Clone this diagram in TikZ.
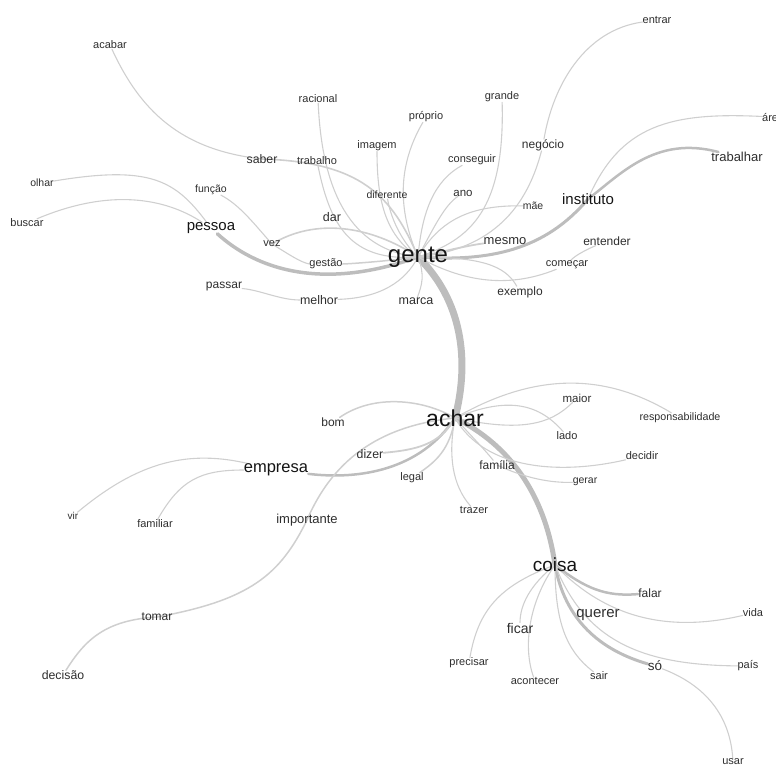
\documentclass[tikz,border=0pt]{standalone}
\usepackage{fontspec}
\setmainfont{Liberation Sans}
\usetikzlibrary{backgrounds}
\begin{document}
\begin{tikzpicture}[x=1pt,y=-1pt,
                    edge/.style={draw=black!19,line width=1.1pt,line cap=round},
                    trunk/.style={draw=black!26,line width=#1,line cap=round},
                    lbl/.style={inner sep=0pt,text=black!82,font=\fontsize{#1}{#1}\selectfont},
                    lbl/.default=11,
                    big/.style={text=black!92}]
 \useasboundingbox (0,0) rectangle (776,764);
 % hubs
 \node[lbl=24,big] (gente) at (418,257) {gente};
 \node[lbl=23,big] (achar) at (455,418) {achar};
 \node[lbl=19,big] (coisa) at (555,565) {coisa};
 \node[lbl=16.5,big] (empresa) at (276,470) {empresa};
 \node[lbl=15,big] (pessoa) at (211,228) {pessoa};
 \node[lbl=15,big] (instituto) at (588,199) {instituto};
 % around gente
 \node[lbl=13] (trabalhar) at (737,157) {trabalhar};
 \node[lbl, anchor=west] (area) at (762,117) {área};
 \node[lbl=13] (mesmo) at (505,241) {mesmo};
 \node[lbl=12] (negocio) at (543,145) {negócio};
 \node[lbl] (entrar) at (657,20) {entrar};
 \node[lbl] (grande) at (502,97) {grande};
 \node[lbl] (proprio) at (426,117) {próprio};
 \node[lbl] (racional) at (318,99) {racional};
 \node[lbl] (imagem) at (377,146) {imagem};
 \node[lbl] (conseguir) at (472,160) {conseguir};
 \node[lbl=10.5] (diferente) at (387,195) {diferente};
 \node[lbl=11.5] (ano) at (463,193) {ano};
 \node[lbl=10.5] (mae) at (533,206) {mãe};
 \node[lbl=12.3] (saber) at (262,159) {saber};
 \node[lbl] (trabalho) at (317,161) {trabalho};
 \node[lbl] (acabar) at (110,45) {acabar};
 \node[lbl=10.5] (funcao) at (211,190) {função};
 \node[lbl=12.5] (dar) at (332,217) {dar};
 \node[lbl] (vez) at (272,244) {vez};
 \node[lbl] (gestao) at (326,264) {gestão};
 \node[lbl=12] (passar) at (224,287) {passar};
 \node[lbl=12.4] (melhor) at (319,300) {melhor};
 \node[lbl=12.5] (marca) at (416,301) {marca};
 \node[lbl=12] (exemplo) at (520,292) {exemplo};
 \node[lbl] (comecar) at (567,265) {começar};
 \node[lbl=12] (entender) at (607,241) {entender};
 \node[lbl=10.5] (olhar) at (42,183) {olhar};
 \node[lbl] (buscar) at (27,223) {buscar};
 % around achar
 \node[lbl=12] (bom) at (333,422) {bom};
 \node[lbl=12.3] (dizer) at (370,454) {dizer};
 \node[lbl] (legal) at (412,478) {legal};
 \node[lbl=13] (importante) at (307,520) {importante};
 \node[lbl=12] (tomar) at (157,617) {tomar};
 \node[lbl=12.3] (decisao) at (63,675) {decisão};
 \node[lbl=10] (vir) at (73,516) {vir};
 \node[lbl] (familiar) at (155,524) {familiar};
 \node[lbl=11.5] (maior) at (577,398) {maior};
 \node[lbl] (lado) at (567,436) {lado};
 \node[lbl=10.7] (resp) at (680,418) {responsabilidade};
 \node[lbl] (decidir) at (642,456) {decidir};
 \node[lbl=12] (familia) at (497,465) {família};
 \node[lbl=10.5] (gerar) at (585,482) {gerar};
 \node[lbl] (trazer) at (474,510) {trazer};
 % around coisa
 \node[lbl=15] (querer) at (598,615) {querer};
 \node[lbl=14] (ficar) at (520,628) {ficar};
 \node[lbl=13.5] (so) at (655,666) {só};
 \node[lbl=12] (falar) at (650,593) {falar};
 \node[lbl] (vida) at (753,613) {vida};
 \node[lbl] (pais) at (748,666) {país};
 \node[lbl] (precisar) at (469,663) {precisar};
 \node[lbl] (acontecer) at (535,681) {acontecer};
 \node[lbl] (sair) at (599,676) {sair};
 \node[lbl] (usar) at (733,762) {usar};
 \begin{scope}[on background layer]
  % trunk
  \draw[trunk=7pt] (gente.center) .. controls (462,300) and (470,360) .. (achar.center);
  \draw[trunk=5pt] (achar.center) .. controls (510,445) and (545,495) .. (coisa.center);
  % gente
  \draw[trunk=3.5pt] (gente.center) .. controls (320,292) and (255,268) .. (pessoa);
  \draw[edge] (pessoa) .. controls (175,180) and (150,165) .. (olhar);
  \draw[edge] (pessoa) .. controls (165,198) and (110,188) .. (buscar);
  \draw[trunk=3pt] (gente.center) .. controls (490,262) and (545,250) .. (instituto.center);
  \draw[trunk=2.5pt] (instituto.center) .. controls (620,175) and (655,135) .. (trabalhar);
  \draw[edge] (instituto.center) .. controls (620,125) and (670,112) .. (area);
  \draw[edge,line width=1.8pt] (gente.center) .. controls (450,250) and (470,245) .. (mesmo);
  \draw[edge] (gente.center) .. controls (440,220) and (470,205) .. (mae);
  \draw[edge] (gente.center) .. controls (435,225) and (445,205) .. (ano);
  \draw[edge] (gente.center) .. controls (422,210) and (435,180) .. (conseguir);
  \draw[edge] (gente.center) .. controls (470,240) and (505,210) .. (grande);
  \draw[edge] (gente.center) .. controls (485,250) and (525,215) .. (negocio);
  \draw[edge] (negocio) .. controls (553,85) and (585,30) .. (entrar);
  \draw[edge] (gente.center) .. controls (400,215) and (395,170) .. (proprio);
  \draw[edge] (gente.center) .. controls (385,235) and (377,200) .. (imagem);
  \draw[edge] (gente.center) .. controls (400,240) and (390,215) .. (diferente);
  \draw[edge] (gente.center) .. controls (350,250) and (322,190) .. (racional);
  \draw[edge] (gente.center) .. controls (350,262) and (330,225) .. (trabalho);
  \draw[edge,line width=1.6pt] (gente.center) .. controls (392,195) and (360,162) .. (saber.center);
  \draw[edge] (saber.center) .. controls (180,150) and (140,110) .. (acabar);
  \draw[edge,line width=1.6pt] (gente.center) .. controls (370,225) and (315,218) .. (vez.center);
  \draw[edge] (vez.center) .. controls (255,225) and (240,205) .. (funcao);
  \draw[edge] (vez.center) .. controls (290,255) and (300,262) .. (gestao.west);
  \draw[edge,line width=1.5pt] (gente.center) .. controls (380,262) and (345,264) .. (gestao);
  \draw[edge] (gente.center) .. controls (405,282) and (380,298) .. (melhor);
  \draw[edge] (melhor) .. controls (280,300) and (260,290) .. (passar);
  \draw[edge] (gente.center) .. controls (425,275) and (422,285) .. (marca);
  \draw[edge] (gente.center) .. controls (480,257) and (505,265) .. (exemplo);
  \draw[edge] (gente.center) .. controls (460,280) and (505,290) .. (comecar);
  \draw[edge] (comecar) .. controls (575,255) and (590,248) .. (entender);
  % achar
  \draw[trunk=2.5pt] (achar.center) .. controls (420,470) and (360,480) .. (empresa);
  \draw[edge] (empresa) .. controls (190,450) and (140,460) .. (vir);
  \draw[edge] (empresa) .. controls (200,470) and (180,480) .. (familiar);
  \draw[edge,line width=1.5pt] (achar.center) .. controls (425,400) and (375,393) .. (bom);
  \draw[edge,line width=1.8pt] (achar.center) .. controls (440,445) and (415,450) .. (dizer);
  \draw[edge,line width=1.5pt] (achar.center) .. controls (450,450) and (435,462) .. (legal);
  \draw[edge,line width=1.5pt] (achar.center) .. controls (385,425) and (335,455) .. (importante.center);
  \draw[edge,line width=1.5pt] (importante.center) .. controls (280,575) and (250,600) .. (tomar.center);
  \draw[edge,line width=1.5pt] (tomar.center) .. controls (105,620) and (85,640) .. (decisao);
  \draw[edge] (achar.center) .. controls (530,375) and (600,370) .. (resp);
  \draw[edge] (achar.center) .. controls (520,432) and (550,425) .. (maior);
  \draw[edge] (achar.center) .. controls (510,395) and (540,405) .. (lado);
  \draw[edge] (achar.center) .. controls (475,440) and (485,450) .. (familia);
  \draw[edge] (achar.center) .. controls (485,470) and (560,475) .. (decidir);
  \draw[edge] (familia.center) .. controls (525,478) and (550,483) .. (gerar);
  \draw[edge] (achar.center) .. controls (448,455) and (452,485) .. (trazer);
  % coisa
  \draw[trunk=2.5pt] (coisa.center) .. controls (585,588) and (605,597) .. (falar);
  \draw[trunk=3pt] (coisa.center) .. controls (565,620) and (600,650) .. (so);
  \draw[edge] (coisa.center) .. controls (600,612) and (660,635) .. (vida);
  \draw[edge] (coisa.center) .. controls (585,640) and (640,665) .. (pais);
  \draw[edge] (so) .. controls (705,685) and (730,715) .. (usar);
  \draw[edge] (coisa.center) .. controls (555,620) and (565,650) .. (sair);
  \draw[edge] (coisa.center) .. controls (530,585) and (520,605) .. (ficar);
  \draw[edge] (coisa.center) .. controls (530,600) and (522,645) .. (acontecer);
  \draw[edge] (coisa.center) .. controls (500,585) and (478,610) .. (precisar);
 \end{scope}
\end{tikzpicture}
\end{document}
